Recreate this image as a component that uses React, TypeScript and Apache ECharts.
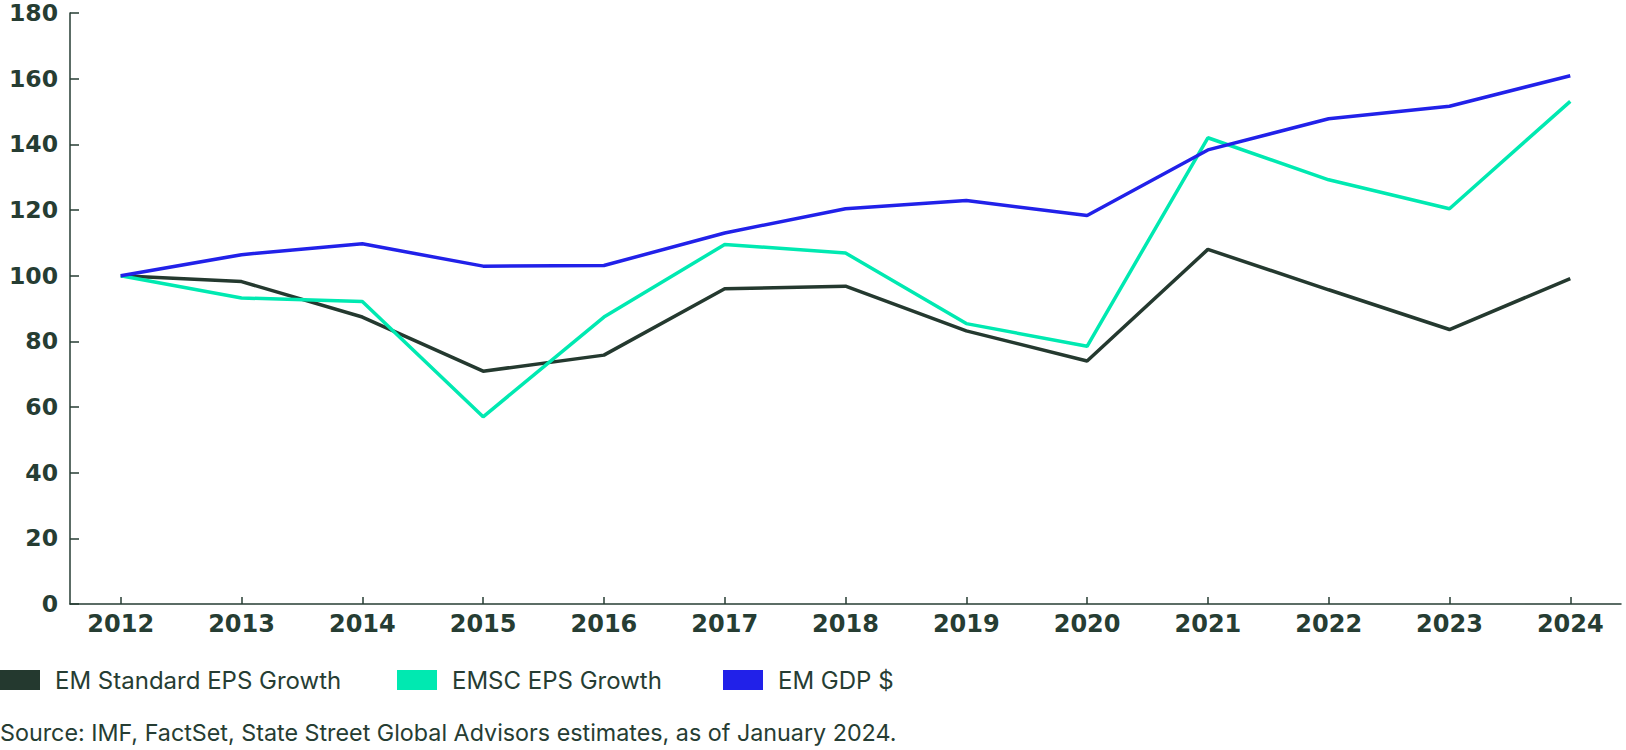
import React, { useEffect, useRef } from "react";
import * as echarts from "echarts";

const years = [2012, 2013, 2014, 2015, 2016, 2017, 2018, 2019, 2020, 2021, 2022, 2023, 2024];
const emStandard = [100, 98.2, 87.4, 70.9, 75.8, 96.0, 96.8, 83.2, 74.0, 108.0, 95.7, 83.6, 99.1];
const emsc = [100, 93.2, 92.1, 57.0, 87.4, 109.5, 106.9, 85.4, 78.5, 142.0, 129.2, 120.4, 153.1];
const emGdp = [100, 106.4, 109.7, 102.9, 103.1, 113.0, 120.4, 122.9, 118.3, 138.3, 147.8, 151.6, 160.9];
const seriesNames = ["EM Standard EPS Growth", "EMSC EPS Growth", "EM GDP $"];
const seriesColors = ["#24392f", "#00e9b1", "#2121e9"];
const sourceText = "Source: IMF, FactSet, State Street Global Advisors estimates, as of January 2024.";

const DARK = "#263d33";

export default function App() {
  const ref = useRef<HTMLDivElement>(null);
  useEffect(() => {
    if (!ref.current) return;
    const chart = echarts.init(ref.current, null, { renderer: "svg" });
    const allData = [emStandard, emsc, emGdp];
    const legendLefts = [0, 397, 723];
    chart.setOption({
      animation: false,
      grid: { left: 70, right: 5, top: 13, bottom: 750 - 604 },
      xAxis: {
        type: "value",
        min: 2011.58,
        max: 2024.42,
        splitLine: { show: false },
        axisLine: { show: true, lineStyle: { color: DARK, width: 1.5 } },
        axisTick: {
          show: true,
          inside: true,
          length: 7,
          customValues: years,
          lineStyle: { color: DARK, width: 1.5 },
        },
        axisLabel: {
          customValues: years,
          formatter: (v: number) => String(Math.round(v)),
          fontFamily: "DejaVu Sans",
          fontWeight: "bold",
          fontSize: 24,
          color: DARK,
          margin: 8,
        },
      },
      yAxis: {
        type: "value",
        min: 0,
        max: 180,
        interval: 20,
        splitLine: { show: false },
        axisLine: { show: true, lineStyle: { color: DARK, width: 1.5 } },
        axisTick: { show: true, inside: true, length: 9, lineStyle: { color: DARK, width: 1.5 } },
        axisLabel: {
          fontFamily: "DejaVu Sans",
          fontWeight: "bold",
          fontSize: 23.5,
          lineHeight: 20,
          color: DARK,
          margin: 12,
        },
      },
      legend: seriesNames.map((n, i) => ({
        data: [n],
        left: legendLefts[i],
        top: 668,
        padding: 0,
        itemWidth: 40,
        itemHeight: 20,
        icon: "rect",
        selectedMode: false,
        textStyle: {
          fontFamily: "Inter",
          fontSize: 24,
          color: DARK,
          padding: [0, 0, 0, 10],
        },
      })),
      series: seriesNames.map((n, i) => ({
        name: n,
        type: "line",
        symbol: "none",
        data: years.map((y, j) => [y, allData[i][j]]),
        lineStyle: { color: seriesColors[i], width: 3.5 },
        itemStyle: { color: seriesColors[i] },
      })),
      graphic: [
        {
          type: "text",
          left: 0,
          top: 721,
          style: {
            text: sourceText,
            fontFamily: "Inter",
            fontSize: 23.3,
            fill: DARK,
          },
        },
      ],
    });
    return () => chart.dispose();
  }, []);
  return (
    <div
      ref={ref}
      style={{ position: "absolute", left: 0, top: 0, width: 1626, height: 750 }}
    />
  );
}
